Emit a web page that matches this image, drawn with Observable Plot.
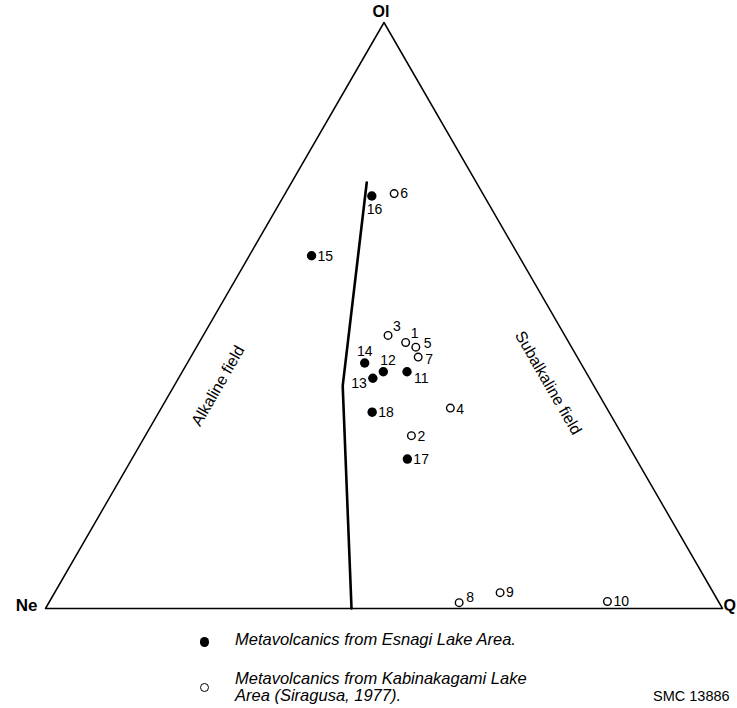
<!DOCTYPE html>
<html>
<head>
<meta charset="utf-8">
<script src="https://cdn.jsdelivr.net/npm/d3@7"></script>
<script src="https://cdn.jsdelivr.net/npm/@observablehq/plot@0.6"></script>
<style>
  html, body { margin: 0; padding: 0; background: #fff; }
  #wrap { position: relative; width: 737px; height: 708px; font-family: "Liberation Sans", Arial, Helvetica, sans-serif; color: #000; }
  #chart { position: absolute; left: 0; top: 0; }
  .lg { position: absolute; font-style: italic; font-size: 16.5px; line-height: 17px; white-space: nowrap; }
  .mk { position: absolute; box-sizing: border-box; border-radius: 50%; }
  .code { position: absolute; font-size: 14.5px; white-space: nowrap; }
  #chart text { fill: #000; }
</style>
</head>
<body>
<div id="wrap">
  <div id="chart"></div>
  <span class="mk" style="left:199.5px; top:637px; width:9.5px; height:9.5px; background:#000;"></span>
  <div class="lg" style="left:235px; top:631px;">Metavolcanics from Esnagi Lake Area.</div>
  <span class="mk" style="left:199.5px; top:683px; width:9px; height:9px; border:1.4px solid #000;"></span>
  <div class="lg" style="left:235px; top:670px;">Metavolcanics from Kabinakagami Lake<br>Area (Siragusa, 1977).</div>
  <div class="code" style="left:653px; top:688px;">SMC 13886</div>
</div>
<script>
// Sample numbers and ternary compositions (percent Ol, Ne, Q)
const sampleIds = [1, 2, 3, 4, 5, 6, 7, 8, 9, 10, 11, 12, 13, 14, 15, 16, 17, 18];
const olPct = [45.4, 29.5, 46.6, 34.2, 44.6, 70.8, 42.9, 1.0, 2.7, 1.2, 40.4, 40.4, 39.3, 41.9, 60.2, 70.4, 25.5, 33.5];
const nePct = [24.1, 31.2, 26.1, 23.1, 23.0, 13.1, 23.5, 38.4, 31.5, 16.4, 26.4, 29.9, 32.0, 31.9, 30.6, 16.6, 33.8, 35.0];
const qPct  = [30.5, 39.3, 27.3, 42.7, 32.4, 16.1, 33.6, 60.6, 65.8, 82.4, 33.2, 29.7, 28.7, 26.2, 9.2, 13.0, 40.7, 31.5];
const areas = ["Kabinakagami", "Kabinakagami", "Kabinakagami", "Kabinakagami", "Kabinakagami",
               "Kabinakagami", "Kabinakagami", "Kabinakagami", "Kabinakagami", "Kabinakagami",
               "Esnagi", "Esnagi", "Esnagi", "Esnagi", "Esnagi", "Esnagi", "Esnagi", "Esnagi"];

// Alkaline / subalkaline dividing line (Ol, Ne, Q)
const boundaryOl = [72.7, 38.0, 0];
const boundaryNe = [16.2, 37.1, 54.8];
const boundaryQ  = [11.1, 24.9, 45.2];

// Apices
const apexNames = ["Ol", "Ne", "Q"];
const apexOl = [100, 0, 0];
const apexNe = [0, 100, 0];
const apexQ  = [0, 0, 100];

// Field labels (ternary positions)
const fieldNames = ["Alkaline field", "Subalkaline field"];
const fieldOl = [38.0, 38.5];
const fieldNe = [55.5, 6.5];
const fieldQ  = [6.5, 55.0];

const H = Math.sqrt(3) / 2;
function tern(ol, ne, q) {
  const s = ol + ne + q;
  const O = ol / s, Qf = q / s;
  return { x: Qf + O / 2, y: O * H };
}

const samples = sampleIds.map((id, i) => ({ id, area: areas[i], ...tern(olPct[i], nePct[i], qPct[i]) }));
const boundary = boundaryOl.map((o, i) => tern(o, boundaryNe[i], boundaryQ[i]));
const apices = apexNames.map((n, i) => ({ name: n, ...tern(apexOl[i], apexNe[i], apexQ[i]) }));
const outline = [apices[1], apices[2], apices[0], apices[1]];
const fields = fieldNames.map((n, i) => ({ name: n, ...tern(fieldOl[i], fieldNe[i], fieldQ[i]) }));

// label placement (dx, dy, anchor) per sample
const place = {
  1: [5, -9, "start"], 2: [6, 1, "start"], 3: [5, -9, "start"], 4: [6, 1, "start"],
  5: [8, -4, "start"], 6: [6, 0, "start"], 7: [7, 2, "start"], 8: [7, -5, "start"],
  9: [6, 0, "start"], 10: [6, 0, "start"], 11: [7, 7, "start"], 12: [-3, -11, "start"],
  13: [-6, 5, "end"], 14: [0, -11, "middle"], 15: [6, 1, "start"], 16: [-5, 14, "start"],
  17: [6, 0, "start"], 18: [6, 0, "start"]
};

const labelMarks = samples.map(s => {
  const [dx, dy, anchor] = place[s.id];
  return Plot.text([s], { x: "x", y: "y", text: d => String(d.id), dx, dy, textAnchor: anchor, fontSize: 14, fill: "#000" });
});

const chart = Plot.plot({
  width: 737,
  height: 620,
  marginLeft: 45,
  marginRight: 15,
  marginTop: 22,
  marginBottom: 12,
  x: { domain: [0, 1], axis: null },
  y: { domain: [0, H], axis: null },
  style: { fontFamily: "'Liberation Sans', Arial, Helvetica, sans-serif", background: "#fff", color: "#000", overflow: "visible" },
  marks: [
    Plot.line(outline, { x: "x", y: "y", stroke: "#000", strokeWidth: 1.5 }),
    Plot.line(boundary, { x: "x", y: "y", stroke: "#000", strokeWidth: 2.6, strokeLinejoin: "miter" }),
    Plot.dot(samples.filter(d => d.area === "Esnagi"), { x: "x", y: "y", r: 4.7, fill: "#000", stroke: "none" }),
    Plot.dot(samples.filter(d => d.area === "Kabinakagami"), { x: "x", y: "y", r: 3.8, fill: "#fff", stroke: "#000", strokeWidth: 1.4 }),
    ...labelMarks,
    Plot.text(apices.filter(d => d.name === "Ol"), { x: "x", y: "y", text: "name", dy: -11, dx: -3, fontSize: 16, fontWeight: "bold", fill: "#000" }),
    Plot.text(apices.filter(d => d.name === "Ne"), { x: "x", y: "y", text: "name", dx: -8, dy: -3, textAnchor: "end", fontSize: 17, fontWeight: "bold", fill: "#000" }),
    Plot.text(apices.filter(d => d.name === "Q"), { x: "x", y: "y", text: "name", dx: 1, dy: -3, textAnchor: "start", fontSize: 16, fontWeight: "bold", fill: "#000" }),
    Plot.text(fields.filter(d => d.name === "Alkaline field"), { x: "x", y: "y", text: "name", rotate: -60, fontSize: 16, fill: "#000" }),
    Plot.text(fields.filter(d => d.name === "Subalkaline field"), { x: "x", y: "y", text: "name", rotate: 60, fontSize: 16, fill: "#000" })
  ]
});
document.getElementById("chart").appendChild(chart);
</script>
</body>
</html>
